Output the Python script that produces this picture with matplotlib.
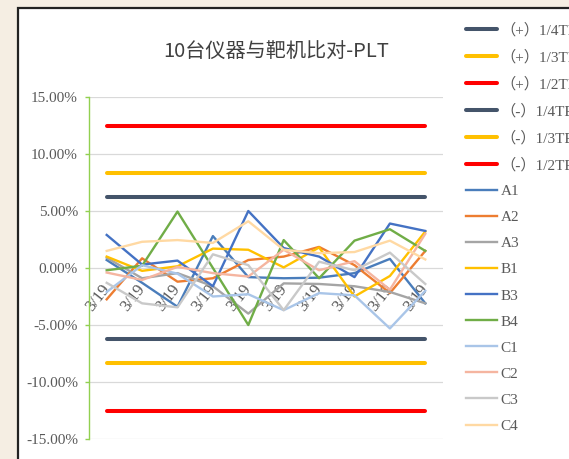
import matplotlib
matplotlib.use("Agg")
import matplotlib.pyplot as plt
from matplotlib.patches import Rectangle
from matplotlib.ticker import FixedLocator, FuncFormatter

# Category labels (one per measurement)
categories = ["3/19"] * 10

# Allowed-error limits (percent of TEa)
limit_labels = ["（+）1/4TEA", "（+）1/3TEA", "（+）1/2TEA",
                "（-）1/4TEA", "（-）1/3TEA", "（-）1/2TEA"]
limit_values = [6.25, 8.33, 12.5, -6.25, -8.33, -12.5]
limit_colors = ["#44546A", "#FFC000", "#FF0000", "#44546A", "#FFC000", "#FF0000"]

# Relative deviation (%) of each instrument vs the reference analyser
A1 = [0.7, -1.3, -3.4, 2.8, -0.8, -0.9, -0.85, -0.45, 0.8, -3.1]
A2 = [-2.75, 0.85, -1.2, -0.9, 0.7, 1.0, 1.85, 0.25, -2.2, 1.5]
A3 = [0.9, -0.9, -0.45, -1.6, -4.0, -1.35, -1.4, -1.6, -2.1, -3.1]
B1 = [1.0, -0.25, 0.15, 1.7, 1.6, 0.05, 1.8, -2.5, -0.7, 3.2]
B3 = [2.9, 0.3, 0.65, -1.6, 5.0, 1.75, 1.0, -0.8, 3.9, 3.25]
B4 = [-0.2, 0.2, 4.95, 0.0, -5.0, 2.45, -0.9, 2.4, 3.4, 1.5]
C1 = [-2.1, 0.25, -0.5, -2.5, -2.3, -3.7, -2.2, -2.4, -5.3, -2.0]
C2 = [-0.4, -1.05, 0.1, -0.45, -0.75, 1.6, -0.2, 0.6, -1.9, 3.0]
C3 = [-1.3, -3.1, -3.45, 1.2, 0.25, -3.7, 0.55, -0.2, 1.35, -1.4]
C4 = [1.5, 2.3, 2.45, 2.2, 4.1, 1.6, 1.3, 1.4, 2.4, 0.75]

series_names = ["A1", "A2", "A3", "B1", "B3", "B4", "C1", "C2", "C3", "C4"]
series_values = [A1, A2, A3, B1, B3, B4, C1, C2, C3, C4]
series_colors = ["#4A7DBB", "#ED7D31", "#A5A5A5", "#FFC000", "#4472C4",
                 "#70AD47", "#A9C5E8", "#F5B5A0", "#C9C9C9", "#FFD9A3"]

y_ticks = [15, 10, 5, 0, -5, -10, -15]

W, H = 569, 459
fig = plt.figure(figsize=(W / 100, H / 100), dpi=100)
fig.patch.set_facecolor("#F5EEE3")

# white chart area with dark frame, drawn beneath the axes
frame = Rectangle((18 / W, -0.1), 1.2, 1 - 8 / H + 0.1, transform=fig.transFigure,
                  facecolor="white", edgecolor="#222222", linewidth=1.6, zorder=-5)
fig.patches.append(frame)

ax = fig.add_axes([89 / W, (H - 439) / H, (443 - 89) / W, (439 - 97) / H])
ax.set_facecolor("none")

x = list(range(len(categories)))
for lab, val, col in zip(limit_labels, limit_values, limit_colors):
    ax.plot(x, [val] * len(x), color=col, lw=2.9, label=lab,
            solid_capstyle="round", zorder=3)
for name, vals, col in zip(series_names, series_values, series_colors):
    ax.plot(x, vals, color=col, lw=1.7, label=name, zorder=4)

ax.set_xlim(-0.5, len(categories) - 0.5)
ax.set_ylim(-15, 15)
ax.yaxis.set_major_locator(FixedLocator(y_ticks))
ax.yaxis.set_major_formatter(FuncFormatter(lambda v, p: f"{v:.2f}%"))
ax.grid(axis="y", color="#D9D9D9", lw=0.9, zorder=1)
ax.set_axisbelow(True)

for s in ["top", "right"]:
    ax.spines[s].set_visible(False)
ax.spines["left"].set_color("#92D050")
ax.spines["left"].set_linewidth(1.0)
ax.spines["bottom"].set_position(("data", 0))
ax.spines["bottom"].set_visible(False)

serif = ["Liberation Serif", "Noto Sans CJK SC"]
ax.tick_params(axis="y", length=3, width=1.0, color="#92D050", pad=5,
               labelsize=11, labelcolor="#595959")
for t in ax.get_yticklabels():
    t.set_family(serif)

ax.set_xticks(x)
ax.set_xticklabels(categories, rotation=52, ha="right", va="center",
                   rotation_mode="anchor", fontsize=12, color="#595959",
                   family=serif)
ax.tick_params(axis="x", length=0, pad=13)

fig.text(276 / W, 1 - 52 / H, "10台仪器与靶机比对-PLT", ha="center", va="center",
         fontsize=14.5, color="#404040", family=["Noto Sans CJK SC", "DejaVu Sans"])

leg = fig.legend(loc="upper left", bbox_to_anchor=(466 / W, 1 - 23 / H),
                 frameon=False, handlelength=2.0, handletextpad=0.25,
                 labelspacing=0.81, borderpad=0, borderaxespad=0,
                 prop={"family": serif, "size": 11})
for t in leg.get_texts():
    t.set_color("#595959")

fig.savefig("out.png", dpi=100, facecolor=fig.get_facecolor())
